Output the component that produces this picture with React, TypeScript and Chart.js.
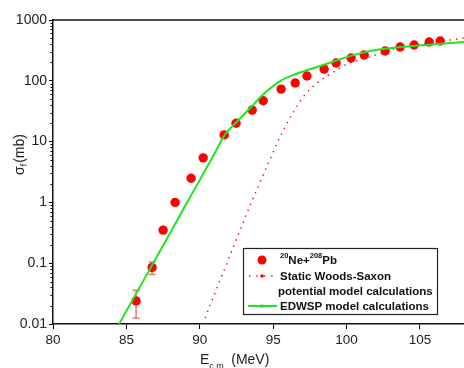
import React, { useEffect, useRef } from "react";
import { Chart, registerables } from "chart.js";

Chart.register(...registerables);

// Experimental data: 20Ne + 208Pb fusion cross sections
const expEnergy = [85.66, 86.75, 87.5, 88.32, 89.41, 90.23, 91.66, 92.47, 93.57, 94.32, 95.54, 96.5, 97.3, 98.47, 99.29, 100.31, 101.2, 102.63, 103.65, 104.6, 105.63, 106.38];
const expSigma = [0.024, 0.085, 0.35, 1.0, 2.5, 5.4, 12.9, 20, 33, 47, 73, 92, 120, 156, 196, 237, 266, 309, 360, 388, 435, 452];

// Error bars (only visible on the two lowest points)
const errEnergy = [85.66, 86.75];
const errLow = [0.0126, 0.065];
const errHigh = [0.036, 0.105];

// Static Woods-Saxon potential model calculations
const swEnergy = [90.2, 91.3, 92.07, 93.3, 94.59, 95.6, 97.04, 98.06, 99.09, 100.04, 101.6, 103.18, 105.2, 107.06, 108];
const swSigma = [0.01, 0.047, 0.136, 0.75, 4.0, 13.8, 54, 95, 139, 189, 247, 333, 403, 468, 505];

// EDWSP model calculations
const edEnergy = [84.5, 85, 86, 87, 88, 89, 90, 91, 91.7, 92.5, 93.5, 94.3, 95.5, 96.5, 97.5, 98.5, 100, 101, 102.3, 103.5, 104.5, 106, 108];
const edSigma = [0.01, 0.0164, 0.044, 0.119, 0.32, 0.87, 2.34, 6.3, 12.9, 21, 37, 59, 100, 128, 155, 185, 245, 285, 330, 355, 372, 400, 435];

const xTicks = [80, 85, 90, 95, 100, 105];
const yTicks = [0.01, 0.1, 1, 10, 100, 1000];
const yTickLabels = ["0.01", "0.1", "1", "10", "100", "1000"];

const FONT = "'Liberation Sans', Arial, sans-serif";
const RED = "#ff0000";
const GREEN = "#1ee61e";
const LEG = 11.5;

const decorPlugin = {
  id: "decor",
  beforeDatasetsDraw(chart: any) {
    const { ctx } = chart;
    const xs = chart.scales.x;
    const ys = chart.scales.y;
    ctx.save();
    ctx.strokeStyle = "rgba(235,90,90,0.85)";
    ctx.lineWidth = 1.5;
    for (let i = 0; i < errEnergy.length; i++) {
      const px = xs.getPixelForValue(errEnergy[i]);
      const y1 = ys.getPixelForValue(errLow[i]);
      const y2 = ys.getPixelForValue(errHigh[i]);
      ctx.beginPath();
      ctx.moveTo(px, y1);
      ctx.lineTo(px, y2);
      ctx.moveTo(px - 3.5, y1);
      ctx.lineTo(px + 3.5, y1);
      ctx.moveTo(px - 3.5, y2);
      ctx.lineTo(px + 3.5, y2);
      ctx.stroke();
    }
    ctx.restore();
  },
  afterDraw(chart: any) {
    const { ctx, chartArea } = chart;
    const ys = chart.scales.y;
    ctx.save();
    // top frame line
    ctx.strokeStyle = "#111";
    ctx.lineWidth = 1.5;
    ctx.beginPath();
    ctx.moveTo(chartArea.left, chartArea.top);
    ctx.lineTo(chartArea.right, chartArea.top);
    ctx.stroke();
    // minor y ticks
    ctx.lineWidth = 1;
    ctx.strokeStyle = "#000";
    for (let d = -2; d < 3; d++) {
      for (let m = 2; m <= 9; m++) {
        const py = Math.round(ys.getPixelForValue(m * Math.pow(10, d))) + 0.5;
        ctx.beginPath();
        ctx.moveTo(chartArea.left - 2.5, py);
        ctx.lineTo(chartArea.left, py);
        ctx.stroke();
      }
    }

    // Y title: σf(mb)
    ctx.fillStyle = "#222";
    ctx.save();
    ctx.translate(24, 155);
    ctx.rotate(-Math.PI / 2);
    ctx.font = `14px ${FONT}`;
    const wS = ctx.measureText("\u03c3").width;
    const wM = ctx.measureText("(mb)").width;
    ctx.font = `9px ${FONT}`;
    const wF = ctx.measureText("f").width;
    const start = -(wS + wF + wM) / 2;
    ctx.textBaseline = "alphabetic";
    ctx.font = `14px ${FONT}`;
    ctx.fillText("\u03c3", start, 0);
    ctx.font = `9px ${FONT}`;
    ctx.fillText("f", start + wS, 3);
    ctx.font = `14px ${FONT}`;
    ctx.fillText("(mb)", start + wS + wF + 1, 0);
    ctx.restore();

    // X title: Ec.m. (MeV)
    ctx.font = `14px ${FONT}`;
    ctx.textBaseline = "alphabetic";
    let x = 200;
    ctx.fillText("E", x, 364);
    x += ctx.measureText("E").width;
    ctx.font = `9px ${FONT}`;
    ctx.fillText("c.m.", x, 369);
    x += ctx.measureText("c.m.").width + 1;
    ctx.font = `14px ${FONT}`;
    ctx.fillText(" (MeV)", x, 364);

    // Legend
    const bx = 243, by = 248, bw = 194, bh = 66;
    ctx.fillStyle = "#fff";
    ctx.fillRect(bx, by, bw, bh);
    ctx.strokeStyle = "#222";
    ctx.lineWidth = 1.2;
    ctx.strokeRect(bx + 0.5, by + 0.5, bw, bh);

    // row 1
    ctx.fillStyle = RED;
    ctx.beginPath();
    ctx.arc(262, 260, 4.5, 0, Math.PI * 2);
    ctx.fill();
    ctx.fillStyle = "#111";
    let tx = 280;
    ctx.font = `bold 7.5px ${FONT}`;
    ctx.fillText("20", tx, 258);
    tx += ctx.measureText("20").width;
    ctx.font = `bold ${LEG}px ${FONT}`;
    ctx.fillText("Ne+", tx, 264);
    tx += ctx.measureText("Ne+").width;
    ctx.font = `bold 7.5px ${FONT}`;
    ctx.fillText("208", tx, 258);
    tx += ctx.measureText("208").width;
    ctx.font = `bold ${LEG}px ${FONT}`;
    ctx.fillText("Pb", tx, 264);

    // row 2: dotted red
    ctx.strokeStyle = RED;
    ctx.lineWidth = 1.4;
    ctx.setLineDash([1.4, 6]);
    ctx.beginPath();
    ctx.moveTo(249, 276);
    ctx.lineTo(277, 276);
    ctx.stroke();
    ctx.setLineDash([]);
    ctx.fillStyle = RED;
    ctx.beginPath();
    ctx.arc(262, 276, 1.8, 0, Math.PI * 2);
    ctx.fill();
    ctx.fillStyle = "#111";
    ctx.font = `bold ${LEG}px ${FONT}`;
    ctx.fillText("Static Woods-Saxon", 280, 280);
    ctx.fillText("potential model calculations", 278, 295);

    // row 3: green
    ctx.strokeStyle = GREEN;
    ctx.lineWidth = 2;
    ctx.beginPath();
    ctx.moveTo(248, 306);
    ctx.lineTo(277, 306);
    ctx.stroke();
    ctx.fillStyle = GREEN;
    ctx.fillRect(260.5, 304.5, 3, 3);
    ctx.fillStyle = "#111";
    ctx.fillText("EDWSP model calculations", 280, 310);

    ctx.restore();
  },
};

export default function App() {
  const ref = useRef<HTMLCanvasElement | null>(null);
  useEffect(() => {
    if (!ref.current) return;
    const chart = new Chart(ref.current, {
      type: "scatter",
      data: {
        datasets: [
          {
            label: "EDWSP model calculations",
            data: edEnergy.map((e, i) => ({ x: e, y: edSigma[i] })),
            showLine: true,
            borderColor: GREEN,
            backgroundColor: GREEN,
            borderWidth: 2,
            pointRadius: 0,
            cubicInterpolationMode: "monotone",
            order: 0,
          } as any,
          {
            label: "Static Woods-Saxon potential model calculations",
            data: swEnergy.map((e, i) => ({ x: e, y: swSigma[i] })),
            showLine: true,
            borderColor: RED,
            backgroundColor: RED,
            borderWidth: 1.4,
            borderDash: [1.4, 5],
            pointRadius: 0,
            cubicInterpolationMode: "monotone",
            order: 1,
          } as any,
          {
            label: "20Ne+208Pb",
            data: expEnergy.map((e, i) => ({ x: e, y: expSigma[i] })),
            showLine: false,
            backgroundColor: RED,
            borderColor: RED,
            pointRadius: 4.7,
            pointBorderWidth: 0,
            order: 2,
          },
        ],
      },
      options: {
        responsive: false,
        animation: false,
        layout: { autoPadding: false, padding: { top: 20, right: 0, left: 0, bottom: 0 } },
        plugins: { legend: { display: false }, tooltip: { enabled: false } },
        scales: {
          x: {
            type: "linear",
            min: 80,
            max: 108,
            afterBuildTicks: (s: any) => {
              s.ticks = xTicks.map((v) => ({ value: v }));
            },
            afterFit: (s: any) => {
              s.height = 44;
            },
            grid: { display: true, drawOnChartArea: false, drawTicks: true, tickLength: 5, color: "#000", lineWidth: 1 },
            border: { display: true, color: "#111", width: 1.5 },
            ticks: {
              color: "#222",
              font: { family: FONT, size: 13.5 },
              padding: 3,
              maxRotation: 0,
              autoSkip: false,
              callback: (v: any) => String(v),
            },
          },
          y: {
            type: "logarithmic",
            min: 0.01,
            max: 1000,
            afterBuildTicks: (s: any) => {
              s.ticks = yTicks.map((v) => ({ value: v }));
            },
            afterFit: (s: any) => {
              s.width = 53;
            },
            grid: { display: true, drawOnChartArea: false, drawTicks: true, tickLength: 4, color: "#000", lineWidth: 1 },
            border: { display: true, color: "#111", width: 1.5 },
            ticks: {
              color: "#222",
              font: { family: FONT, size: 14 },
              padding: 2,
              autoSkip: false,
              callback: (_v: any, i: number) => yTickLabels[i],
            },
          },
        },
      } as any,
      plugins: [decorPlugin],
    });
    return () => chart.destroy();
  }, []);
  return (
    <div style={{ position: "absolute", left: 0, top: 0, width: 464, height: 368, background: "#fff" }}>
      <canvas ref={ref} width={464} height={368} style={{ display: "block" }} />
    </div>
  );
}
